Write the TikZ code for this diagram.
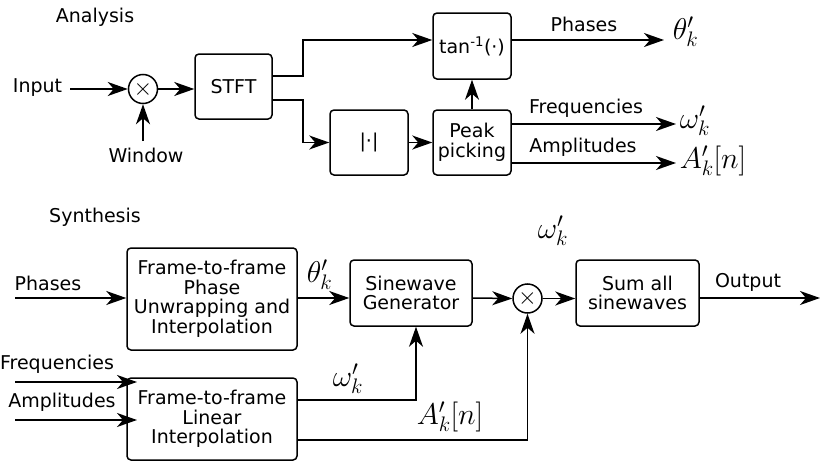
\RequirePackage{fix-cm}
\documentclass[tikz,border=0pt]{standalone}
\usepackage{fontspec}
\setmainfont{DejaVu Sans}
\usetikzlibrary{arrows.meta}
\newcommand\txtf{\fontsize{19}{19.5}\selectfont}
\newcommand\mthf{\fontsize{30}{32}\selectfont}
\begin{document}
\begin{tikzpicture}[x=1pt,y=-1pt, line width=1.5pt,
  >={Stealth[length=20pt,width=14pt,inset=6pt]},
  box/.style={draw, rounded corners=4pt, align=center, inner sep=0pt, font=\txtf},
  mul/.style={draw, circle, minimum size=29pt, inner sep=0pt, font=\fontsize{24}{24}\selectfont},
  lab/.style={inner sep=0pt, font=\txtf, align=center},
  mth/.style={inner sep=0pt, font=\mthf, anchor=base west}]
\useasboundingbox (0,0) rectangle (820,463);

% ---------------- Analysis ----------------
\node[lab] (analysis) at (95,17) {Analysis};
\node[lab] (input) at (37.5,88) {Input};
\coordinate (inS) at (70,89);
\node[mul] (mul1) at (143,89) {$\times$};
\node[lab] (window) at (146,155) {Window};
\coordinate (winS) at (143,141);
\node[box, minimum width=77pt, minimum height=65pt] (stft) at (233.5,86.5) {STFT};
\node[box, minimum width=78pt, minimum height=65pt] (abs) at (369,142.5) {|·|};
\node[box, minimum width=78pt, minimum height=65pt] (peak) at (472,142.5) {Peak\\picking};
\node[box, minimum width=78pt, minimum height=66pt] (tan) at (472,46) {tan\textsuperscript{-1}(·)};

\draw[->] (inS) -- (mul1.west);
\draw[->] (winS) -- (mul1.south);
\draw[->] (mul1.east) -- (mul1.east -| stft.west);
\draw[->] ([yshift=10.5pt]stft.east) -- ++(30,0) |- ([yshift=6pt]tan.west);
\draw[->] ([yshift=-13.5pt]stft.east) -- ++(30,0) |- (abs.west);
\draw[->] (abs.east) -- (peak.west);
\draw[->] (peak.north) -- (tan.south);

\coordinate (phE) at (664,40);
\coordinate (frE) at (676,124);
\coordinate (amE) at (676,163);
\draw[->] (tan.east |- phE) -- (phE);
\draw[->] ([yshift=18.5pt]peak.east) -- (frE);
\draw[->] ([yshift=-20.5pt]peak.east) -- (amE);
\node[lab] (phl) at (584,24) {Phases};
\node[lab] (frl) at (586,108) {Frequencies};
\node[lab] (aml) at (583,147) {Amplitudes};
\node[mth] (theta1) at (672,39) {$\theta'_k$};
\node[mth] (omega1) at (679,128) {$\omega'_k$};
\node[mth] (amp1) at (679,168) {$A'_k[n]$};

% ---------------- Synthesis ----------------
\node[lab] (synthesis) at (95,217) {Synthesis};
\node[box, minimum width=170pt, minimum height=102pt] (box1) at (212,299)
  {Frame-to-frame\\Phase\\Unwrapping and\\Interpolation};
\node[box, minimum width=122pt, minimum height=66pt] (sine) at (411,293) {Sinewave\\Generator};
\node[mul] (mul2) at (527.5,298.5) {$\times$};
\node[box, minimum width=123pt, minimum height=66pt] (sum) at (637.5,293) {Sum all\\sinewaves};
\node[box, minimum width=170pt, minimum height=82pt] (box2) at (212,419)
  {Frame-to-frame\\Linear\\Interpolation};

\node[lab] (phl2) at (48,283) {Phases};
\coordinate (phS) at (15,298);
\draw[->] (phS) -- (phS -| box1.west);
\draw[->] (box1.east |- phS) -- (phS -| sine.west);
\draw[->] (sine.east |- phS) -- (mul2.west);
\draw[->] (mul2.east) -- (mul2.east -| sum.west);
\coordinate (outE) at (820,298);
\draw[->] (sum.east |- outE) -- (outE);
\node[lab] (outl) at (748,282) {Output};
\node[mth] (theta2) at (306,282) {$\theta'_k$};
\node[mth] (omega3) at (537,238) {$\omega'_k$};

\node[lab] (frl2) at (57,364) {Frequencies};
\node[lab] (aml2) at (62,402) {Amplitudes};
\coordinate (frS) at (15,382);
\coordinate (frT) at (137,382);
\coordinate (amS) at (15,420);
\coordinate (amT) at (137,420);
\draw[->] (frS) -- (frT);
\draw[->] (amS) -- (amT);

\draw[->] ([yshift=19pt]box2.east) -| ([xshift=5pt]sine.south);
\draw[->] ([yshift=-21pt]box2.east) -| (mul2.south);
\node[mth] (omega2) at (332,386) {$\omega'_k$};
\node[mth] (amp2) at (416,424) {$A'_k[n]$};
\end{tikzpicture}
\end{document}
